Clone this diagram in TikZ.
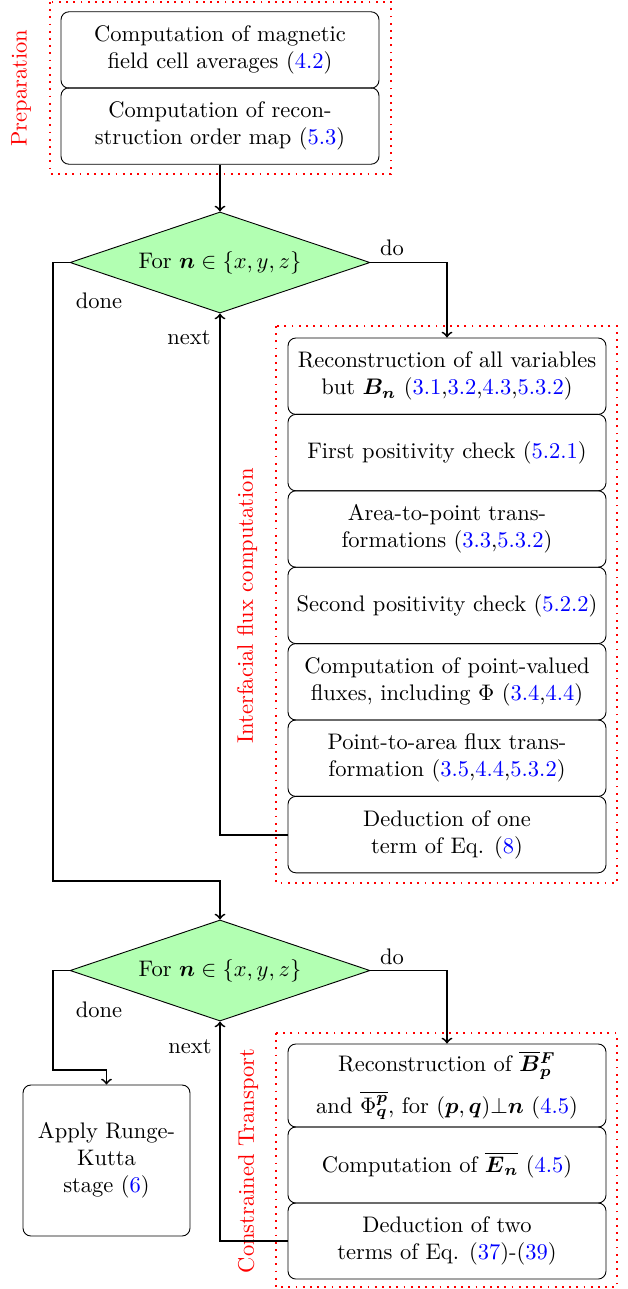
\documentclass[tikz,border=0pt]{standalone}
\usepackage{amsmath}
\usetikzlibrary{shapes.geometric}
\newcommand{\myref}[1]{\textcolor{blue}{#1}}
\begin{document}
\begin{tikzpicture}[x=0.4444pt,y=-0.4444pt,
  stepbox/.style={draw, rounded corners=3.5pt, align=center, minimum width=141.3pt, minimum height=33.96pt, inner sep=2pt},
  group/.style={draw=red, line width=0.8pt, dash pattern=on 0.8pt off 2.4pt},
  grouplabel/.style={text=red, rotate=90, inner sep=0pt},
  decision/.style={diamond, draw, fill=green!30, aspect=3, minimum width=133.3pt, minimum height=44.9pt, inner sep=1pt},
  flow/.style={->, thick},
  lab/.style={inner sep=0pt}]
\useasboundingbox (0,0) rectangle (627,1289);

% group frames
\draw[group] (50,2) rectangle (391,174);
\draw[group] (276,326) rectangle (617,883);
\draw[group] (276,1033) rectangle (617,1287);
\node[grouplabel] (gprep) at (21,88) {Preparation};
\node[grouplabel] (gflux) at (247,606) {Interfacial flux computation};
\node[grouplabel] (gct) at (248,1161) {Constrained Transport};

% preparation
\node[stepbox] (t1) at (220,50) {Computation of magnetic\\field cell averages (\myref{4.2})};
\node[stepbox] (t2) at (220,126) {Computation of recon-\\struction order map (\myref{5.3})};

% first loop
\node[decision] (d1) at (220,262.5) {For $\boldsymbol{n}\in\{x,y,z\}$};
\node[stepbox] (r1) at (447,376.2) {Reconstruction of all variables\\but $\boldsymbol{B_n}$ (\myref{3.1},\myref{3.2},\myref{4.3},\myref{5.3.2})};
\node[stepbox] (r2) at (447,452.6) {First positivity check (\myref{5.2.1})};
\node[stepbox] (r3) at (447,529) {Area-to-point trans-\\formations (\myref{3.3},\myref{5.3.2})};
\node[stepbox] (r4) at (447,605.4) {Second positivity check (\myref{5.2.2})};
\node[stepbox] (r5) at (447,681.8) {Computation of point-valued\\fluxes, including $\Phi$ (\myref{3.4},\myref{4.4})};
\node[stepbox] (r6) at (447,758.2) {Point-to-area flux trans-\\formation (\myref{3.5},\myref{4.4},\myref{5.3.2})};
\node[stepbox] (r7) at (447,834.6) {Deduction of one\\term of Eq. (\myref{8})};

% second loop
\node[decision] (d2) at (220,970.5) {For $\boldsymbol{n}\in\{x,y,z\}$};
\node[stepbox, minimum height=36.9pt] (c1) at (447,1085.5) {Reconstruction of $\overline{\boldsymbol{B}}{}_{\boldsymbol{p}}^{\boldsymbol{F}}$\\[4pt]and $\overline{\Phi^{\boldsymbol{p}}_{\boldsymbol{q}}}$, for $(\boldsymbol{p},\boldsymbol{q}){\perp}\boldsymbol{n}$ (\myref{4.5})};
\node[stepbox, minimum height=33.8pt] (c2) at (447,1165) {Computation of $\overline{\boldsymbol{E}_{\boldsymbol{n}}}$ (\myref{4.5})};
\node[stepbox, minimum height=33.8pt] (c3) at (447,1241) {Deduction of two\\terms of Eq. (\myref{37})-(\myref{39})};
\node[stepbox, minimum width=74.2pt, minimum height=67.1pt] (apply) at (106.5,1160.5) {Apply Runge-\\Kutta\\stage (\myref{6})};

% connectors
\coordinate (j1) at (53,881);
\coordinate (j2) at (53,1070);
\draw[flow] (t2.south) -- (d1.north);
\draw[flow] (d1.east) -| (r1.north);
\draw[flow] (d1.west) -| (j1) -| (d2.north);
\draw[flow] (r7.west) -| (d1.south);
\draw[flow] (d2.east) -| (c1.north);
\draw[flow] (d2.west) -| (j2) -| (apply.north);
\draw[flow] (c3.west) -| (d2.south);

% labels
\node[lab] (do1) at (392,248) {do};
\node[lab] (done1) at (99,301) {done};
\node[lab] (next1) at (189,338) {next};
\node[lab] (do2) at (392,957) {do};
\node[lab] (done2) at (99,1010) {done};
\node[lab] (next2) at (190,1047) {next};
\end{tikzpicture}
\end{document}
